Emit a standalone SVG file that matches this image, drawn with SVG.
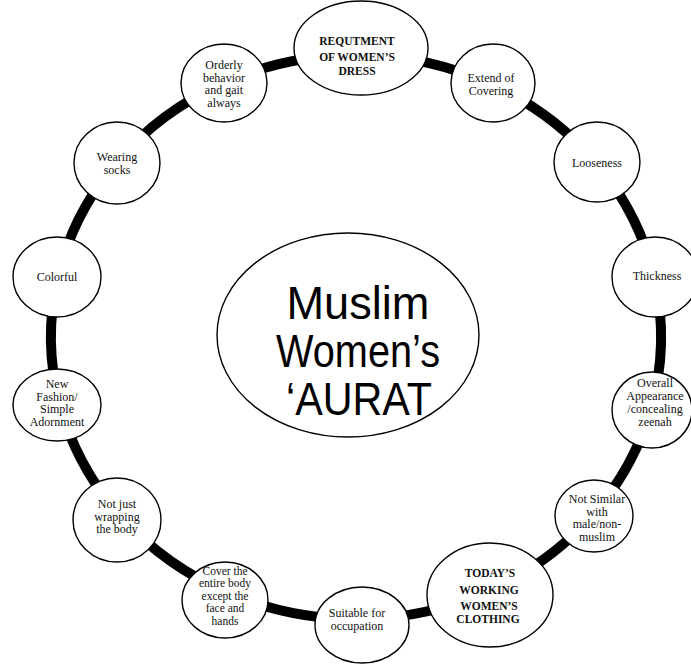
<svg xmlns="http://www.w3.org/2000/svg" width="691" height="665" viewBox="0 0 691 665">
<style>
.ring{fill:none;stroke:#000;stroke-width:10}
.node{fill:#fff;stroke:#000;stroke-width:1.4}
.t{font-family:"Liberation Serif","Times New Roman",serif;font-size:12px;fill:#111;text-anchor:middle}
.s{font-size:11.5px}
.b{font-weight:bold;font-size:11.5px}
.c{font-family:"Liberation Sans",Arial,sans-serif;font-size:46px;fill:#000;text-anchor:middle}
</style>
<rect width="691" height="665" fill="#fff"/>
<g id="connectors">
<path class="ring" d="M361,55 A305,282 0 0 1 492,84.6"/>
<path class="ring" d="M492,84.6 A305,282 0 0 1 596,162.8"/>
<path class="ring" d="M596,162.8 A305,282 0 0 1 654.1,277.2"/>
<path class="ring" d="M654.1,277.2 A305,282 0 0 1 650.7,409.7"/>
<path class="ring" d="M650.7,409.7 A305,282 0 0 1 592.6,515"/>
<path class="ring" d="M592.6,515 A305,282 0 0 1 488,591.2"/>
<path class="ring" d="M488,591.2 A305,282 0 0 1 361.9,619"/>
<path class="ring" d="M361.9,619 A305,282 0 0 1 228.4,593.1"/>
<path class="ring" d="M228.4,593.1 A305,282 0 0 1 121.1,516.9"/>
<path class="ring" d="M121.1,516.9 A305,282 0 0 1 59.8,404.3"/>
<path class="ring" d="M59.8,404.3 A305,282 0 0 1 57.9,277.2"/>
<path class="ring" d="M57.9,277.2 A305,282 0 0 1 116.4,162.5"/>
<path class="ring" d="M116.4,162.5 A305,282 0 0 1 223.9,82.8"/>
<path class="ring" d="M223.9,82.8 A305,282 0 0 1 361,55"/>
</g>
<g id="center">
<ellipse class="node" cx="348" cy="335" rx="131" ry="102"/>
<text class="c" x="358" y="319" textLength="143" lengthAdjust="spacingAndGlyphs">Muslim</text>
<text class="c" x="358" y="367" textLength="164" lengthAdjust="spacingAndGlyphs">Women’s</text>
<text class="c" x="359" y="415" textLength="146" lengthAdjust="spacingAndGlyphs">‘AURAT</text>
</g>
<g id="n1">
<ellipse class="node" cx="361" cy="48" rx="67" ry="47"/>
<text class="t b" x="357" y="45">REQUTMENT</text>
<text class="t b" x="357" y="61">OF WOMEN’S</text>
<text class="t b" x="357" y="75">DRESS</text>
</g>
<g id="n2">
<ellipse class="node" cx="493" cy="83" rx="42" ry="39"/>
<text class="t" x="491" y="82">Extend of</text>
<text class="t" x="491" y="95">Covering</text>
</g>
<g id="n3">
<ellipse class="node" cx="597" cy="162" rx="43" ry="40"/>
<text class="t" x="597" y="167">Looseness</text>
</g>
<g id="n4">
<ellipse class="node" cx="655" cy="277" rx="43" ry="40"/>
<text class="t" x="657" y="280">Thickness</text>
</g>
<g id="n5">
<ellipse class="node" cx="652" cy="410" rx="40" ry="38"/>
<text class="t" x="655" y="387">Overall</text>
<text class="t" x="655" y="400">Appearance</text>
<text class="t" x="655" y="413">/concealing</text>
<text class="t" x="655" y="426">zeenah</text>
</g>
<g id="n6">
<ellipse class="node" cx="594" cy="516" rx="39" ry="36"/>
<text class="t" x="597" y="503">Not Similar</text>
<text class="t" x="597" y="515.5">with</text>
<text class="t" x="597" y="528">male/non-</text>
<text class="t" x="597" y="540.5">muslim</text>
</g>
<g id="n7">
<ellipse class="node" cx="490" cy="595" rx="63" ry="52"/>
<text class="t b" x="490" y="577">TODAY’S</text>
<text class="t b" x="489" y="594">WORKING</text>
<text class="t b" x="489" y="610">WOMEN’S</text>
<text class="t b" x="488" y="623">CLOTHING</text>
</g>
<g id="n8">
<ellipse class="node" cx="362" cy="625" rx="47" ry="38"/>
<text class="t" x="357" y="617">Suitable for</text>
<text class="t" x="357" y="630">occupation</text>
</g>
<g id="n9">
<ellipse class="node" cx="225" cy="600" rx="43" ry="38"/>
<text class="t s" x="225" y="574.5">Cover the</text>
<text class="t s" x="225" y="587">entire body</text>
<text class="t s" x="225" y="599.5">except the</text>
<text class="t s" x="225" y="612">face and</text>
<text class="t s" x="225" y="624.5">hands</text>
</g>
<g id="n10">
<ellipse class="node" cx="117" cy="520" rx="44" ry="42"/>
<text class="t" x="117" y="508">Not just</text>
<text class="t" x="117" y="520.5">wrapping</text>
<text class="t" x="117" y="533">the body</text>
</g>
<g id="n11">
<ellipse class="node" cx="57" cy="405" rx="44" ry="36"/>
<text class="t" x="57" y="388">New</text>
<text class="t" x="57" y="400.5">Fashion/</text>
<text class="t" x="57" y="413">Simple</text>
<text class="t" x="57" y="425.5">Adornment</text>
</g>
<g id="n12">
<ellipse class="node" cx="57" cy="277" rx="44" ry="40"/>
<text class="t" x="57" y="281">Colorful</text>
</g>
<g id="n13">
<ellipse class="node" cx="117" cy="163" rx="43" ry="41"/>
<text class="t" x="117" y="161">Wearing</text>
<text class="t" x="117" y="174">socks</text>
</g>
<g id="n14">
<ellipse class="node" cx="224" cy="83" rx="43" ry="39"/>
<text class="t" x="224" y="69">Orderly</text>
<text class="t" x="224" y="81.5">behavior</text>
<text class="t" x="224" y="94">and gait</text>
<text class="t" x="224" y="106.5">always</text>
</g>
</svg>
